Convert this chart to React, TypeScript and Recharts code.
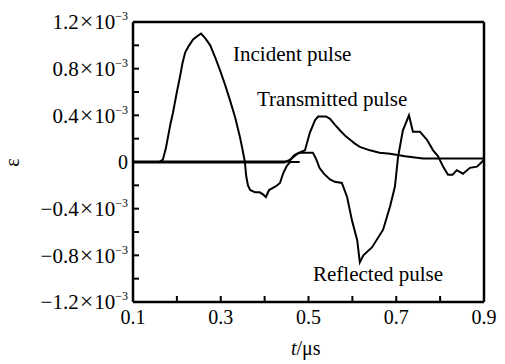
import React from 'react';
import { LineChart, Line, XAxis, YAxis, ReferenceLine } from 'recharts';

// strain values are in units of 1e-3, time in µs
const incidentT = [0.1, 0.16, 0.168, 0.175, 0.18, 0.185, 0.191, 0.2, 0.207, 0.213, 0.219, 0.228, 0.237, 0.247, 0.255, 0.265, 0.276, 0.287, 0.298, 0.31, 0.321, 0.333, 0.344, 0.35, 0.355, 0.358, 0.362, 0.367, 0.378, 0.389, 0.397, 0.403, 0.41, 0.425, 0.435, 0.442, 0.451, 0.458, 0.48];
const incidentE = [0, 0, 0.02, 0.12, 0.22, 0.32, 0.42, 0.6, 0.73, 0.85, 0.94, 1.0, 1.05, 1.08, 1.1, 1.06, 1.0, 0.9, 0.79, 0.66, 0.53, 0.38, 0.21, 0.1, 0, -0.12, -0.2, -0.24, -0.26, -0.26, -0.28, -0.3, -0.24, -0.21, -0.18, -0.1, -0.03, 0, 0];

const transmittedT = [0.1, 0.455, 0.465, 0.475, 0.485, 0.492, 0.503, 0.515, 0.522, 0.53, 0.54, 0.549, 0.56, 0.572, 0.585, 0.595, 0.605, 0.617, 0.64, 0.662, 0.686, 0.72, 0.761, 0.8, 0.85, 0.898];
const transmittedE = [0.004, 0.004, 0.04, 0.07, 0.09, 0.1, 0.25, 0.36, 0.39, 0.39, 0.39, 0.37, 0.32, 0.27, 0.22, 0.19, 0.16, 0.13, 0.1, 0.08, 0.07, 0.05, 0.03, 0.03, 0.03, 0.03];

const reflectedT = [0.1, 0.445, 0.458, 0.468, 0.478, 0.49, 0.51, 0.518, 0.525, 0.535, 0.549, 0.56, 0.576, 0.588, 0.599, 0.611, 0.617, 0.625, 0.645, 0.67, 0.686, 0.697, 0.704, 0.715, 0.729, 0.738, 0.754, 0.77, 0.784, 0.795, 0.807, 0.818, 0.828, 0.838, 0.852, 0.868, 0.884, 0.895, 0.9];
const reflectedE = [-0.004, -0.004, 0.02, 0.06, 0.08, 0.08, 0.08, 0.02, -0.05, -0.1, -0.15, -0.17, -0.18, -0.3, -0.5, -0.67, -0.86, -0.8, -0.73, -0.58, -0.38, -0.21, 0.04, 0.27, 0.4, 0.26, 0.26, 0.19, 0.1, 0.05, -0.04, -0.11, -0.11, -0.07, -0.1, -0.05, -0.04, 0, 0.02];

const xTicks = [0.1, 0.2, 0.3, 0.4, 0.5, 0.6, 0.7, 0.8, 0.9];
const xLabelled = [0.1, 0.3, 0.5, 0.7, 0.9];
const yTicks = [-1.2, -1.0, -0.8, -0.6, -0.4, -0.2, 0, 0.2, 0.4, 0.6, 0.8, 1.0, 1.2];
const yLabelled = [-1.2, -0.8, -0.4, 0, 0.4, 0.8, 1.2];

const FONT = "'Times New Roman', Times, Tinos, 'Liberation Serif', 'DejaVu Serif', serif";

const toRows = (ts: number[], es: number[]) => ts.map((t, i) => ({ t, e: es[i] }));

const near = (list: number[], v: number) => list.some((l) => Math.abs(l - v) < 1e-6);

const svgText = { fontFamily: FONT, fontSize: 20, fill: '#000' };

function XTick({ x, y, payload }: any) {
  if (!near(xLabelled, payload.value)) return null;
  return (
    <text x={x} y={y} dy="0.71em" textAnchor="middle" style={svgText}>
      {payload.value.toFixed(1)}
    </text>
  );
}

function YTick({ x, y, payload }: any) {
  const v = payload.value;
  if (!near(yLabelled, v)) return null;
  if (Math.abs(v) < 1e-6) {
    return (
      <text x={x} y={y} dy="0.35em" textAnchor="end" style={svgText}>
        0
      </text>
    );
  }
  const num = `${v < 0 ? '\u2212' : ''}${Math.abs(v).toFixed(1)}`;
  return (
    <text x={x} y={y} dy="0.35em" textAnchor="end" style={{ ...svgText, fontSize: 21 }}>
      {num}
      <tspan dx={1} style={{ fontSize: 24 }}>{'\u00d7'}</tspan>
      <tspan dx={1}>10</tspan>
      <tspan dy={-9} style={{ fontSize: 12 }}>{'\u22123'}</tspan>
    </text>
  );
}

const labelStyle: React.CSSProperties = {
  position: 'absolute',
  fontFamily: FONT,
  fontSize: 21,
  lineHeight: '21px',
  color: '#000',
  whiteSpace: 'nowrap',
};

export default function App() {
  return (
    <div style={{ position: 'absolute', left: 0, top: 0, width: 505, height: 364, background: '#fff', fontFamily: FONT }}>
      <LineChart width={505} height={364} margin={{ top: 22, right: 21, left: 0, bottom: 0 }}>
        <XAxis
          dataKey="t"
          type="number"
          domain={[0.1, 0.9]}
          ticks={xTicks}
          allowDataOverflow
          height={62}
          stroke="#000"
          strokeWidth={2.5}
          tickSize={-6}
          tickMargin={14}
          tickLine={{ stroke: '#000', strokeWidth: 2 }}
          tick={<XTick />}
          interval={0}
        />
        <YAxis
          dataKey="e"
          type="number"
          domain={[-1.2, 1.2]}
          ticks={yTicks}
          allowDataOverflow
          width={133}
          stroke="#000"
          strokeWidth={2.5}
          tickSize={-6}
          tickMargin={11}
          tickLine={{ stroke: '#000', strokeWidth: 2 }}
          tick={<YTick />}
          interval={0}
        />
        <ReferenceLine y={1.2} stroke="#000" strokeWidth={2.5} />
        <ReferenceLine x={0.9} stroke="#000" strokeWidth={2.5} />
        <Line data={toRows(incidentT, incidentE)} dataKey="e" type="linear" stroke="#000" strokeWidth={2} dot={false} isAnimationActive={false} />
        <Line data={toRows(transmittedT, transmittedE)} dataKey="e" type="linear" stroke="#000" strokeWidth={2} dot={false} isAnimationActive={false} />
        <Line data={toRows(reflectedT, reflectedE)} dataKey="e" type="linear" stroke="#000" strokeWidth={2} dot={false} isAnimationActive={false} />
      </LineChart>
      <div style={{ ...labelStyle, left: 233, top: 44 }}>Incident pulse</div>
      <div style={{ ...labelStyle, left: 257, top: 89 }}>Transmitted pulse</div>
      <div style={{ ...labelStyle, left: 313, top: 264 }}>Reflected pulse</div>
      <div style={{ ...labelStyle, left: 291, top: 338, fontSize: 20 }}>
        <i>t</i>/μs
      </div>
      <div
        style={{
          ...labelStyle,
          fontSize: 20,
          left: 8,
          top: 152,
          transform: 'rotate(-90deg)',
        }}
      >
        ε
      </div>
    </div>
  );
}
